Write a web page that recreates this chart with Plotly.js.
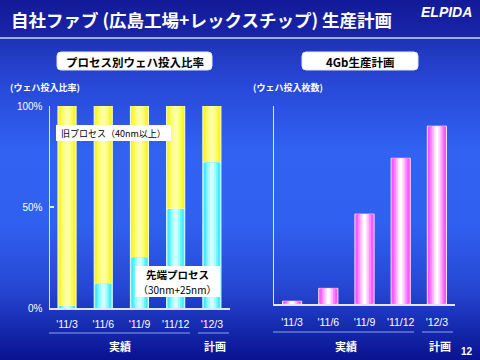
<!DOCTYPE html>
<html><head><meta charset="utf-8">
<script src="https://cdn.plot.ly/plotly-3.0.1.min.js"></script>
<style>
html,body{margin:0;padding:0;}
#chart{width:480px;height:360px;
background:linear-gradient(to bottom,#121a98 0px,#1a24a8 36px,#1e34b8 40px,#2848d8 85px,#3162f2 150px,#3060f0 225px,#2546d2 290px,#1428ac 330px,#0a1290 360px);}
</style></head>
<body><div id="chart"></div>
<script>
// ---- data ----
const periods = ["'11/3", "'11/6", "'11/9", "'11/12", "'12/3"];
const advancedShare = [1, 12, 25, 49, 72];      // 先端プロセス (30nm+25nm), %
const legacyShare   = [99, 88, 75, 51, 28];     // 旧プロセス (40nm以上), %
const waferStarts4Gb = [1.4, 7.9, 45.4, 73.6, 89.8]; // relative wafer starts (no scale shown)
const yTickVals = [0, 50, 100];
const yTickText = ["0%", "50%", "100%"];

const W = 480, H = 360;
const px = x => x / W, py = y => 1 - y / H;
const JP = "Noto Sans CJK JP";

// gradient layers: [width, color]
const cyanLayers = [[0.5,'#7ff6ff'],[0.44,'#40eaf8'],[0.34,'#6ef4fc'],[0.24,'#a0fcff'],[0.12,'#d2ffff']];
const yellowLayers = [[0.5,'#f4f428'],[0.44,'#f6f630'],[0.34,'#fafa58'],[0.24,'#fdfd80'],[0.12,'#ffffa8']];
const magentaLayers = [[0.53,'#ff4cff'],[0.45,'#ff5cff'],[0.36,'#ff88ff'],[0.26,'#ffb8ff'],[0.16,'#ffe2ff'],[0.07,'#ffffff']];

function layers(xa, ya, vals, base, spec, outline) {
  return spec.map((s, i) => ({
    type: 'bar', x: periods, y: vals, base: base, width: s[0],
    xaxis: xa, yaxis: ya, hoverinfo: 'skip',
    marker: {color: s[1], line: {width: i === 0 ? 1 : 0, color: outline}}
  }));
}

const traces = [].concat(
  layers('x', 'y', legacyShare, advancedShare, yellowLayers, '#ffffd0'),
  layers('x', 'y', advancedShare, 0, cyanLayers, '#e0ffff'),
  layers('x2', 'y2', waferStarts4Gb, 0, magentaLayers, '#f4e0ff')
);

const axisLine = '#dfe6ff';
const xCommon = {type: 'category', showline: true, linecolor: axisLine, linewidth: 1.5,
  showgrid: false, zeroline: false, ticks: '', fixedrange: true,
  tickfont: {color: '#ffffff', size: 10.5, family: 'Liberation Sans'}};
const yCommon = {showline: true, linecolor: axisLine, linewidth: 1.5, showgrid: false,
  zeroline: false, ticks: 'inside', ticklen: 4, tickcolor: axisLine, tickwidth: 1.5,
  range: [0, 100], fixedrange: true};

function roundRect(x0, y0, x1, y1, r) {
  const rx = r / W, ry = r / H;
  const X0 = px(x0), X1 = px(x1), Y0 = py(y0), Y1 = py(y1);
  return `M${X0+rx},${Y0} L${X1-rx},${Y0} Q${X1},${Y0} ${X1},${Y0-ry} L${X1},${Y1+ry} Q${X1},${Y1} ${X1-rx},${Y1} L${X0+rx},${Y1} Q${X0},${Y1} ${X0},${Y1+ry} L${X0},${Y0-ry} Q${X0},${Y0} ${X0+rx},${Y0} Z`;
}

const shapes = [
  {type: 'line', xref: 'paper', yref: 'paper', x0: 0, x1: 1, y0: py(38), y1: py(38), line: {color: '#c8d4ff', width: 1.5}},
  {type: 'path', xref: 'paper', yref: 'paper', path: roundRect(57, 52, 212, 70, 4), fillcolor: '#ffffff', line: {color: '#dde4ff', width: 1}},
  {type: 'path', xref: 'paper', yref: 'paper', path: roundRect(302, 52, 418, 70, 4), fillcolor: '#ffffff', line: {color: '#dde4ff', width: 1}},
  {type: 'rect', xref: 'paper', yref: 'paper', x0: px(56), x1: px(171), y0: py(125), y1: py(141), fillcolor: '#ffffff', line: {width: 0}, layer: 'above'},
  {type: 'rect', xref: 'paper', yref: 'paper', x0: px(135), x1: px(220), y0: py(266), y1: py(297), fillcolor: '#ffffff', line: {width: 0}, layer: 'above'},
  // group brackets
  {type: 'line', xref: 'paper', yref: 'paper', x0: px(49), x1: px(190), y0: py(333), y1: py(333), line: {color: '#8ea2e8', width: 1}},
  {type: 'line', xref: 'paper', yref: 'paper', x0: px(198), x1: px(229), y0: py(333), y1: py(333), line: {color: '#8ea2e8', width: 1}},
  {type: 'line', xref: 'paper', yref: 'paper', x0: px(273), x1: px(414), y0: py(332), y1: py(332), line: {color: '#8ea2e8', width: 1}},
  {type: 'line', xref: 'paper', yref: 'paper', x0: px(422), x1: px(453), y0: py(332), y1: py(332), line: {color: '#8ea2e8', width: 1}}
];

function ann(text, x, y, opts) {
  return Object.assign({text: text, x: px(x), y: py(y), xref: 'paper', yref: 'paper',
    showarrow: false, xanchor: 'center', yanchor: 'middle',
    font: {family: JP, size: 11, color: '#ffffff'}}, opts || {});
}

const annotations = [
  ann('<b>自社ファブ (広島工場+レックスチップ) 生産計画</b>', 9, 19, {xanchor: 'left', font: {family: JP, size: 17.5, color: '#ffffff'}}),
  ann('<b><i>ELPIDA</i></b>', 446, 12, {font: {family: 'Liberation Sans', size: 14, color: '#ffffff'}}),
  ann('<b>プロセス別ウェハ投入比率</b>', 134.5, 61.5, {font: {family: JP, size: 11.5, color: '#000000'}}),
  ann('<b>4Gb生産計画</b>', 360, 61.5, {font: {family: JP, size: 11.5, color: '#000000'}}),
  ann('<b>(ウェハ投入比率)</b>', 8, 87, {xanchor: 'left', font: {family: JP, size: 9, color: '#ffffff'}}),
  ann('<b>(ウェハ投入枚数)</b>', 251, 87, {xanchor: 'left', font: {family: JP, size: 9, color: '#ffffff'}}),
  ann('旧プロセス（40nm以上）', 113, 133, {font: {family: JP, size: 9, color: '#000000'}}),
  ann('<b>先端プロセス</b>', 177, 274, {font: {family: JP, size: 10.5, color: '#000000'}}),
  ann('（30nm+25nm）', 177, 289.5, {font: {family: JP, size: 10, color: '#000000'}}),
  ann('<b>実績</b>', 120, 346, {font: {family: JP, size: 11, color: '#ffffff'}}),
  ann('<b>計画</b>', 215, 346, {font: {family: JP, size: 11, color: '#ffffff'}}),
  ann('<b>実績</b>', 346, 346, {font: {family: JP, size: 11, color: '#ffffff'}}),
  ann('<b>計画</b>', 440, 346, {font: {family: JP, size: 11, color: '#ffffff'}}),
  ann('<b>12</b>', 467, 351, {font: {family: 'Liberation Sans', size: 10, color: '#ffffff'}})
];

const layout = {
  width: W, height: H, margin: {l: 0, r: 0, t: 0, b: 0},
  paper_bgcolor: 'rgba(0,0,0,0)', plot_bgcolor: 'rgba(0,0,0,0)',
  showlegend: false, barmode: 'overlay',
  xaxis: Object.assign({}, xCommon, {domain: [px(50), px(230)], range: [-0.47, 4.5], anchor: 'y', ticklabelstandoff: 6}),
  yaxis: Object.assign({}, yCommon, {domain: [py(308), py(106)], anchor: 'x',
    tickvals: yTickVals, ticktext: yTickText, ticklabelstandoff: 4,
    tickfont: {color: '#ffffff', size: 10, family: 'Liberation Sans'}}),
  xaxis2: Object.assign({}, xCommon, {domain: [px(274), px(455)], range: [-0.5, 4.5], anchor: 'y2', ticklabelstandoff: 8}),
  yaxis2: Object.assign({}, yCommon, {domain: [py(304), py(106)], anchor: 'x2',
    tickvals: [100], showticklabels: false}),
  shapes: shapes, annotations: annotations
};

Plotly.newPlot('chart', traces, layout, {staticPlot: true, displayModeBar: false});
</script></body></html>
